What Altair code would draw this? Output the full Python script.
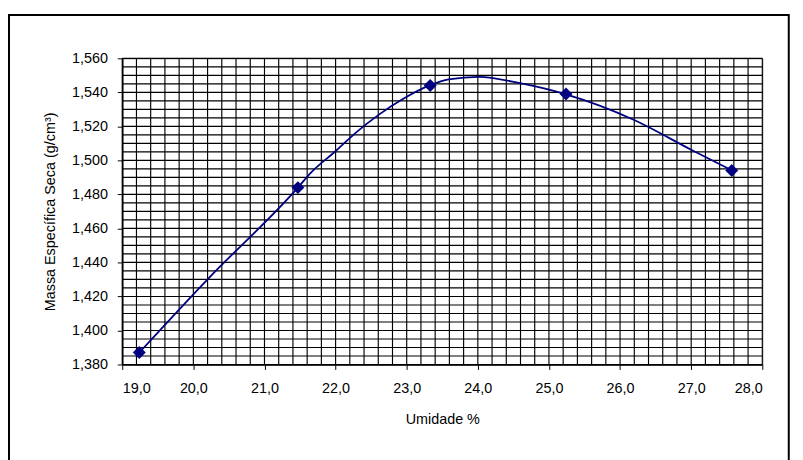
import altair as alt
import pandas as pd

# Measured points (markers)
pts_x = [19.24, 21.47, 23.33, 25.24, 27.57]
pts_y = [1.387, 1.484, 1.544, 1.539, 1.494]

# Smoothed curve
curve_x = [19.24, 20.21, 21.47, 21.64, 22.01, 22.29, 22.62, 22.94, 23.33,
           23.59, 24.01, 24.61, 25.24, 26.19, 27.02, 27.57]
curve_y = [1.387, 1.4305, 1.484, 1.4922, 1.5058, 1.5165, 1.5272, 1.5359, 1.5442,
           1.5476, 1.5491, 1.5452, 1.5388, 1.5239, 1.5058, 1.4942]

x_ticks = [19, 20, 21, 22, 23, 24, 25, 26, 27, 28]
y_ticks = [1.38, 1.40, 1.42, 1.44, 1.46, 1.48, 1.50, 1.52, 1.54, 1.56]

x_title = "Umidade %"
y_title = "Massa Específica Seca (g/cm³)"

# grid positions (styling)
grid_x = [round(19 + 0.2 * i, 2) for i in range(46)]
grid_y = [round(1.38 + 0.005 * i, 3) for i in range(37)]

W, H = 646, 309
FONT = "Liberation Sans"
NAVY = "#000080"

xs = alt.Scale(domain=[19, 28], nice=False, zero=False)
ys = alt.Scale(domain=[1.38, 1.56], nice=False, zero=False)

x_axis = alt.Axis(values=x_ticks, title=x_title, grid=False,
                  labelExpr="replace(format(datum.value, '.1f'), '.', ',')",
                  tickSize=5, labelPadding=12, titlePadding=18)
y_axis = alt.Axis(values=y_ticks, title=y_title, grid=False,
                  labelExpr="replace(format(datum.value, '.3f'), '.', ',')",
                  tickSize=5, labelPadding=10, titlePadding=14)

pts = pd.DataFrame({"x": pts_x, "y": pts_y})
curve = pd.DataFrame({"x": curve_x, "y": curve_y})

gx = alt.Chart(pd.DataFrame({"x": grid_x})).mark_rule(color="black", strokeWidth=1.15).encode(
    x=alt.X("x:Q", scale=xs, axis=x_axis)
)
gy = alt.Chart(pd.DataFrame({"y": grid_y})).mark_rule(color="black", strokeWidth=1.15).encode(
    y=alt.Y("y:Q", scale=ys, axis=y_axis)
)

line = alt.Chart(curve).mark_line(color=NAVY, strokeWidth=1.8, interpolate="monotone").encode(
    x=alt.X("x:Q", scale=xs, axis=x_axis),
    y=alt.Y("y:Q", scale=ys, axis=y_axis),
)

marks = alt.Chart(pts).mark_point(shape="diamond", filled=True, size=170, color=NAVY, opacity=1).encode(
    x=alt.X("x:Q", scale=xs, axis=x_axis),
    y=alt.Y("y:Q", scale=ys, axis=y_axis),
)

border = alt.Chart(pd.DataFrame({"a": [0]})).mark_rect(
    fill=None, stroke="black", strokeWidth=2
).encode(
    x=alt.value(-114.3), x2=alt.value(672.7), y=alt.value(-43.7), y2=alt.value(420)
)

chart = alt.layer(gx, gy, line, marks, border).properties(
    width=W, height=H,
    background="white",
    autosize=alt.AutoSizeParams(type="none"),
    padding={"left": 115.3, "top": 48.7, "right": 33, "bottom": 94},
).configure_view(
    stroke="#808080", strokeWidth=1
).configure_axis(
    domainColor="black", tickColor="black", labelColor="black", titleColor="black",
    labelFont=FONT, titleFont=FONT, labelFontSize=14.5, titleFontSize=14.5,
    titleFontWeight="normal", domainWidth=1.5, tickWidth=1
)

chart.save("out.html", embed_options={"renderer": "svg", "actions": False})
